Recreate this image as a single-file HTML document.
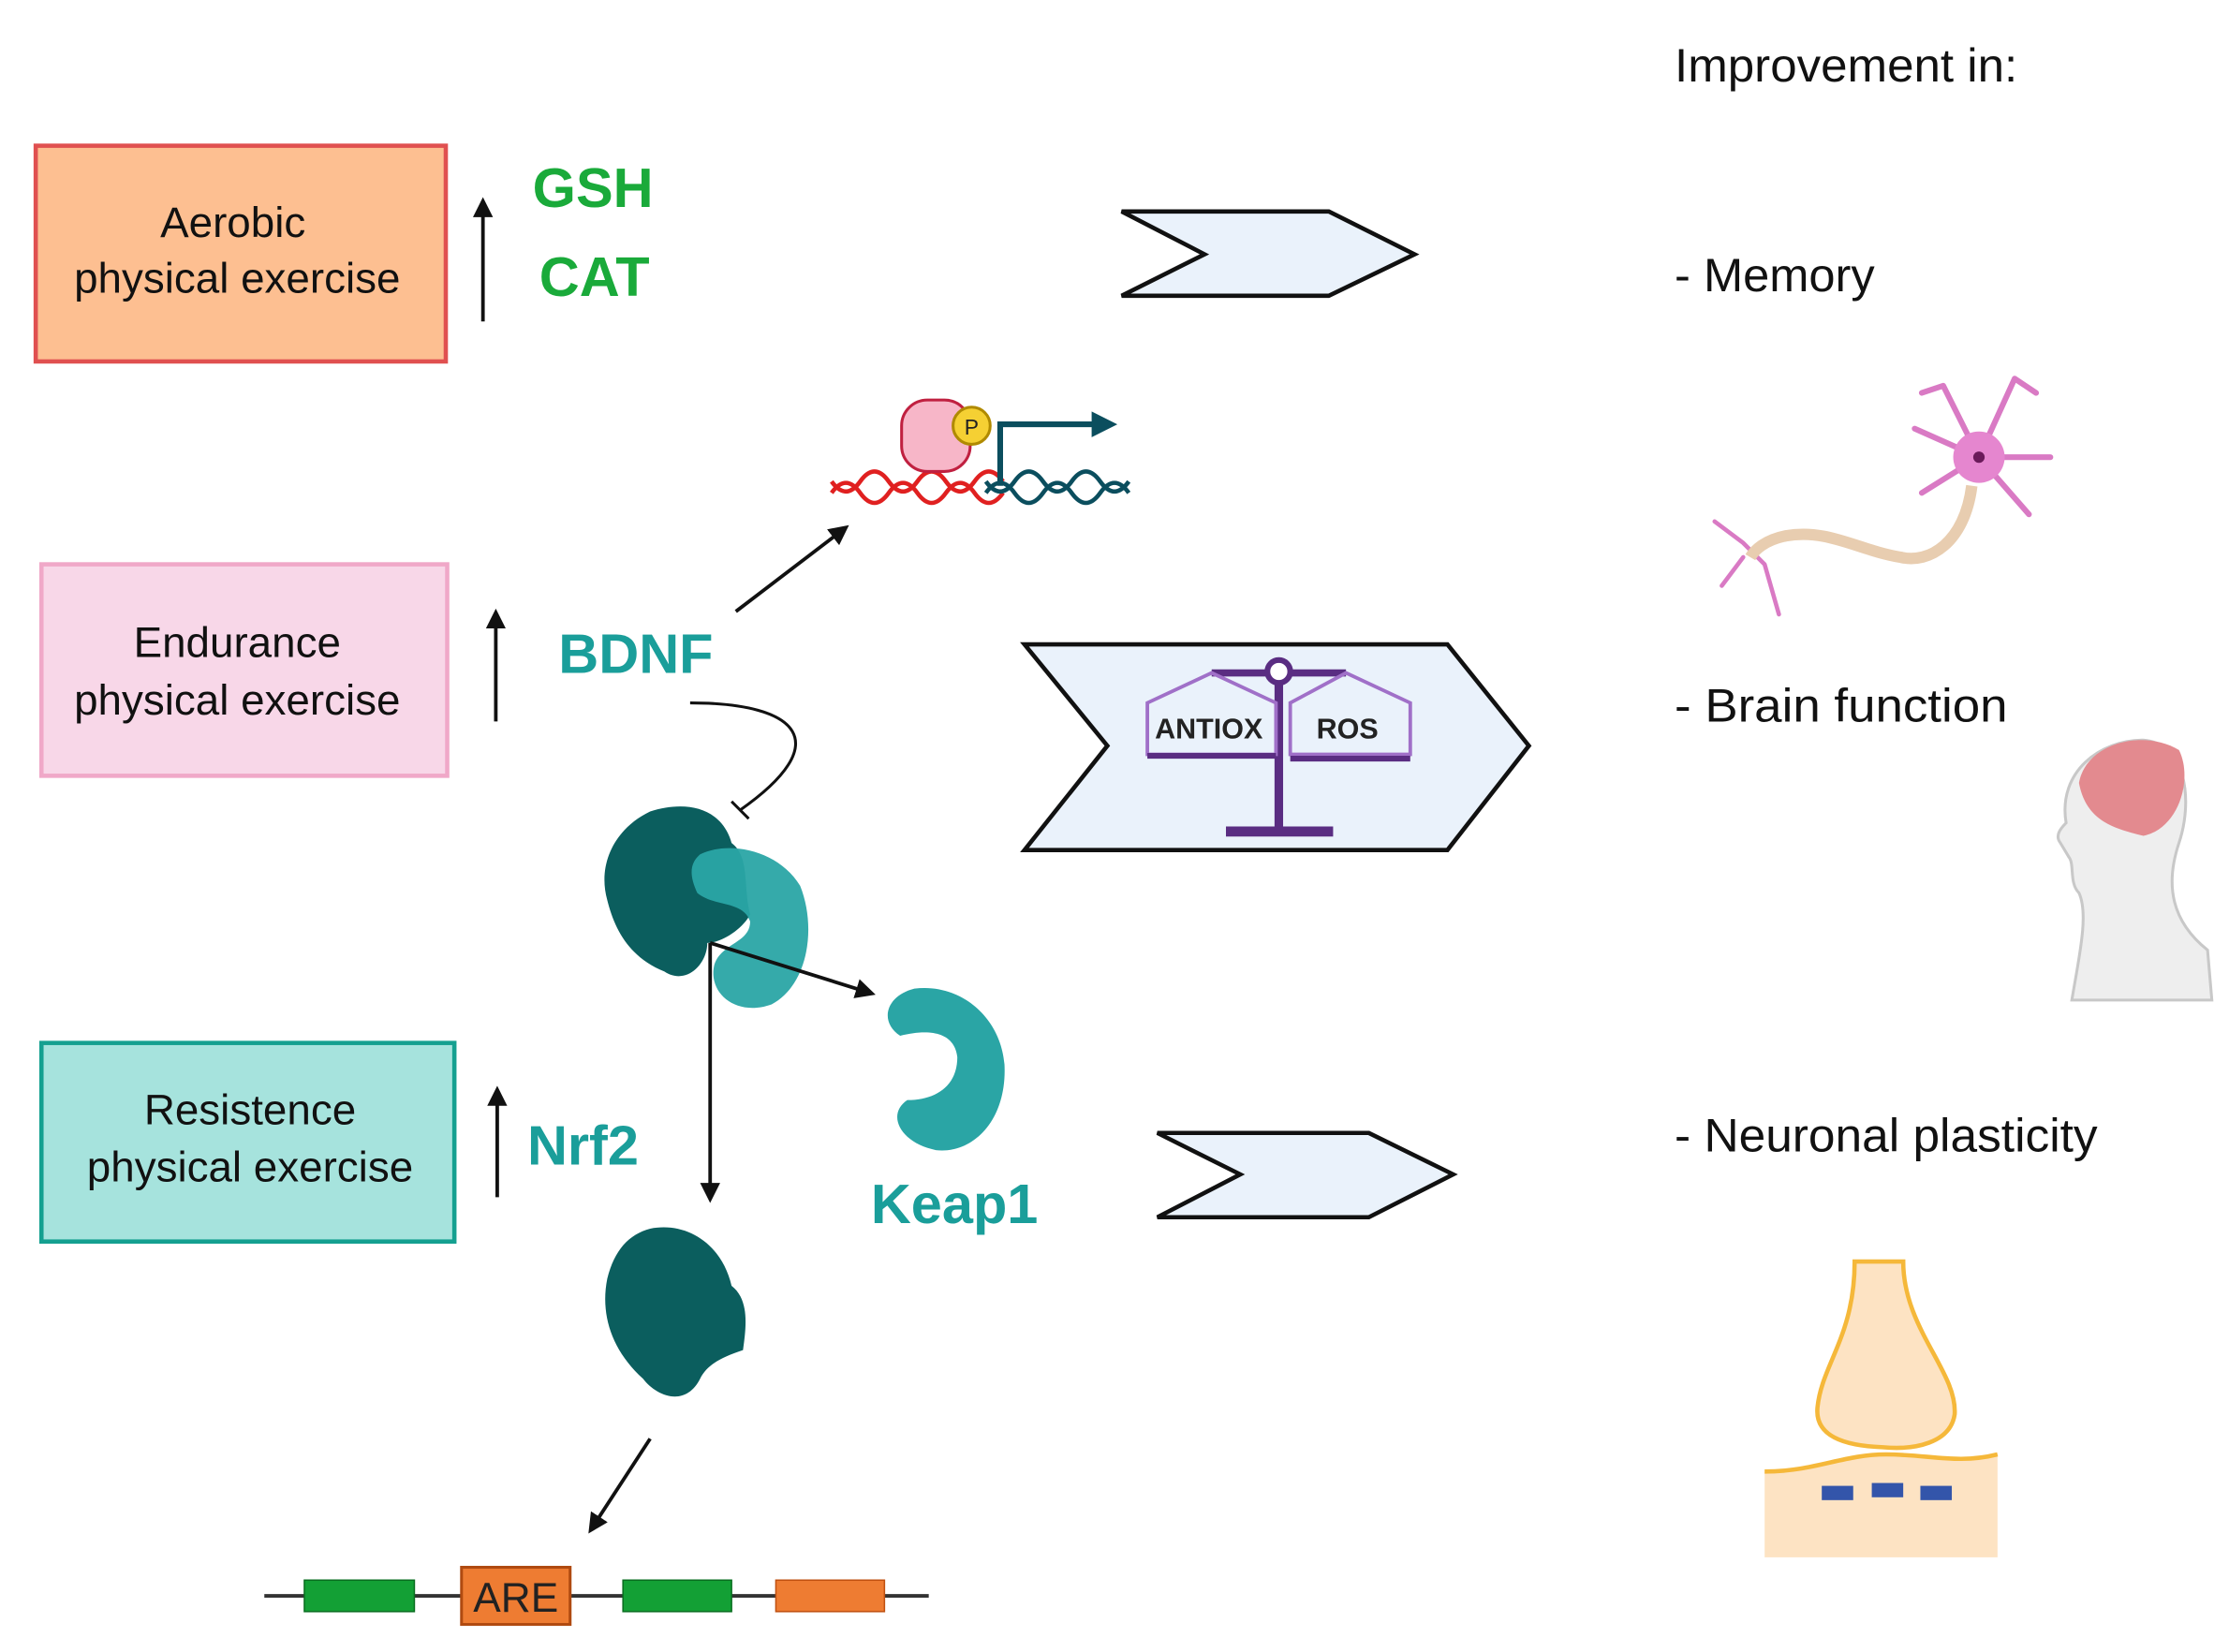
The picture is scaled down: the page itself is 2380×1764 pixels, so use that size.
<!DOCTYPE html>
<html><head><meta charset="utf-8"><style>
html,body{margin:0;padding:0;background:#fff}
svg{display:block}
text{font-family:"Liberation Sans",sans-serif}
</style></head><body>
<svg width="2380" height="1764" viewBox="0 0 1560 1156.3" preserveAspectRatio="none" xmlns="http://www.w3.org/2000/svg">
<defs>
<marker id="ah2" markerWidth="14" markerHeight="14" refX="10" refY="7" orient="auto" markerUnits="userSpaceOnUse"><path d="M0,0 L14,7 L0,14 z" fill="#111"/></marker>
</defs>
<rect width="1560" height="1157" fill="#fff"/>
<rect x="25" y="102" width="287" height="151" fill="#fdbf91" stroke="#e05050" stroke-width="3"/>
<text x="163" y="166" font-size="30" text-anchor="middle" fill="#111">Aerobic</text>
<text x="166" y="205" font-size="30" text-anchor="middle" fill="#111">physical exercise</text>
<rect x="29" y="395" width="284" height="148" fill="#f8d7e8" stroke="#f0a8c8" stroke-width="3"/>
<text x="166" y="460" font-size="30" text-anchor="middle" fill="#111">Endurance</text>
<text x="166" y="500" font-size="30" text-anchor="middle" fill="#111">physical exercise</text>
<rect x="29" y="730" width="289" height="139" fill="#a6e3dd" stroke="#14a090" stroke-width="3"/>
<text x="175" y="787" font-size="30" text-anchor="middle" fill="#111">Resistence</text>
<text x="175" y="827" font-size="30" text-anchor="middle" fill="#111">physical exercise</text>
<line x1="338" y1="225" x2="338" y2="142" stroke="#111" stroke-width="2.5" marker-end="url(#ah2)"/>
<line x1="347" y1="505" x2="347" y2="430" stroke="#111" stroke-width="2.5" marker-end="url(#ah2)"/>
<line x1="348" y1="838" x2="348" y2="764" stroke="#111" stroke-width="2.5" marker-end="url(#ah2)"/>
<text x="415" y="145" font-size="39" font-weight="bold" text-anchor="middle" fill="#1aaa3a">GSH</text>
<text x="416" y="207" font-size="39" font-weight="bold" text-anchor="middle" fill="#1aaa3a">CAT</text>
<text x="445" y="471" font-size="39" font-weight="bold" text-anchor="middle" fill="#1a9e9a">BDNF</text>
<text x="408" y="815" font-size="39" font-weight="bold" text-anchor="middle" fill="#1a9e9a">Nrf2</text>
<text x="668" y="856" font-size="39" font-weight="bold" text-anchor="middle" fill="#1a9e9a">Keap1</text>
<polygon points="785,148 930,148 990,178 930,207 785,207 843,178" fill="#eaf2fb" stroke="#111" stroke-width="3"/>
<polygon points="717,451 1013,451 1070,522 1013,595 717,595 775,522" fill="#eaf2fb" stroke="#111" stroke-width="3"/>
<polygon points="810,793 958,793 1017,822 958,852 810,852 868,822" fill="#eaf2fb" stroke="#111" stroke-width="3"/>
<g stroke="#5a2d82" fill="none">
<line x1="895" y1="470" x2="895" y2="580" stroke-width="6"/>
<line x1="858" y1="582" x2="933" y2="582" stroke-width="7"/>
<line x1="848" y1="471" x2="942" y2="471" stroke-width="5"/>
<circle cx="895" cy="470" r="8" fill="#fff" stroke-width="4"/>
<path d="M848,471 L803,492 L803,528 L893,528 L893,492 Z" stroke="#a070c8" stroke-width="2.5"/>
<path d="M942,471 L987,492 L987,528 L903,528 L903,492 Z" stroke="#a070c8" stroke-width="2.5"/>
<line x1="803" y1="529" x2="893" y2="529" stroke-width="4"/>
<line x1="903" y1="531" x2="987" y2="531" stroke-width="4"/>
</g>
<text x="846" y="517" font-size="20" font-weight="bold" text-anchor="middle" fill="#222">ANTIOX</text>
<text x="943" y="517" font-size="20" font-weight="bold" text-anchor="middle" fill="#222">ROS</text>
<text x="1172" y="57" font-size="33" fill="#111" textLength="240" lengthAdjust="spacingAndGlyphs">Improvement in:</text>
<text x="1172" y="204" font-size="33" fill="#111" textLength="140" lengthAdjust="spacingAndGlyphs">- Memory</text>
<text x="1172" y="505" font-size="33" fill="#111" textLength="233" lengthAdjust="spacingAndGlyphs">-  Brain function</text>
<text x="1172" y="806" font-size="33" fill="#111" textLength="296" lengthAdjust="spacingAndGlyphs">- Neuronal plasticity</text>
<path d="M582,345 q10,-14 20,0 t20,0 t20,0 t20,0 t20,0 t20,0" stroke="#e02020" stroke-width="3" fill="none"/>
<path d="M582,337 q10,14 20,0 t20,0 t20,0 t20,0 t20,0 t20,0" stroke="#e02020" stroke-width="3" fill="none"/>
<path d="M690,345 q10,-14 20,0 t20,0 t20,0 t20,0 t20,0" stroke="#0b4e5e" stroke-width="3" fill="none"/>
<path d="M690,337 q10,14 20,0 t20,0 t20,0 t20,0 t20,0" stroke="#0b4e5e" stroke-width="3" fill="none"/>
<rect x="631" y="280" width="48" height="50" rx="18" fill="#f7b6c8" stroke="#c02040" stroke-width="2"/>
<circle cx="680" cy="298" r="13" fill="#f5d033" stroke="#b08a00" stroke-width="2"/>
<text x="680" y="304" font-size="15" text-anchor="middle" fill="#222">P</text>
<path d="M700,340 L700,297 L768,297" stroke="#0b4e5e" stroke-width="4" fill="none"/>
<path d="M764,288 L782,297 L764,306 z" fill="#0b4e5e"/>
<line x1="515" y1="428" x2="591" y2="370" stroke="#111" stroke-width="2.5" marker-end="url(#ah2)"/>
<path d="M483,492 C560,492 585,520 518,567" stroke="#111" stroke-width="2" fill="none"/>
<line x1="512" y1="561" x2="524" y2="573" stroke="#111" stroke-width="2"/>
<path d="M455,568 C480,560 505,565 512,590 C525,600 520,620 525,640 C520,650 505,660 495,660 C495,675 480,690 465,680 C440,670 430,650 425,630 C418,605 430,580 455,568 Z" fill="#0b5e5e"/>
<path d="M490,598 C510,588 545,595 560,620 C572,650 565,690 540,703 C515,712 495,695 500,675 C505,660 525,660 525,645 C520,630 500,635 488,625 C482,612 483,604 490,598 Z" fill="#2aa5a5" opacity="0.95"/>
<line x1="497" y1="660" x2="497" y2="838" stroke="#111" stroke-width="2.5" marker-end="url(#ah2)"/>
<line x1="497" y1="660" x2="609" y2="695" stroke="#111" stroke-width="2.5" marker-end="url(#ah2)"/>
<path d="M640,692 C670,688 700,710 703,745 C705,785 680,808 655,805 C630,800 620,780 635,770 C655,770 670,760 670,740 C668,722 650,720 630,725 C615,715 620,697 640,692 Z" fill="#2aa5a5"/>
<path d="M455,860 C480,855 505,870 512,900 C525,910 522,930 520,945 C505,950 495,955 490,965 C480,985 460,978 450,965 C428,945 420,920 425,895 C430,875 440,864 455,860 Z" fill="#0b5e5e"/>
<line x1="455" y1="1007" x2="414" y2="1070" stroke="#111" stroke-width="2.5" marker-end="url(#ah2)"/>
<line x1="185" y1="1117" x2="650" y2="1117" stroke="#333" stroke-width="2.5"/>
<rect x="213" y="1106" width="77" height="22" fill="#13a035" stroke="#0a6e20"/>
<rect x="436" y="1106" width="76" height="22" fill="#13a035" stroke="#0a6e20"/>
<rect x="543" y="1106" width="76" height="22" fill="#ee7c32" stroke="#c05010"/>
<rect x="323" y="1097" width="76" height="40" fill="#ee7c32" stroke="#b04a10" stroke-width="2"/>
<text x="361" y="1128" font-size="29" text-anchor="middle" fill="#222">ARE</text>
<g stroke="#d97ac4" stroke-width="4" fill="none" stroke-linecap="round">
<path d="M1385,320 L1360,270 M1385,320 L1410,265 M1385,320 L1435,320 M1385,320 L1420,360 M1385,320 L1345,345 M1385,320 L1340,300 M1360,270 L1345,275 M1410,265 L1425,275"/>
<path d="M1220,380 L1200,365 M1220,390 L1205,410 M1235,395 L1245,430 M1220,380 L1235,395" stroke-width="3"/>
</g>
<path d="M1380,340 C1375,380 1350,395 1330,390 C1300,385 1280,370 1250,375 C1235,378 1228,385 1225,390" stroke="#e8cdb0" stroke-width="8" fill="none"/>
<circle cx="1385" cy="320" r="18" fill="#e586cf"/>
<circle cx="1385" cy="320" r="4" fill="#6a1a5a"/>
<path d="M1450,700 C1455,670 1462,640 1455,625 C1448,618 1452,605 1448,600 L1442,590 C1438,585 1442,580 1446,576 C1440,540 1470,518 1500,518 C1530,520 1535,560 1525,590 C1515,620 1520,645 1545,665 L1548,700 Z" fill="#eeeeee" stroke="#c8c8c8" stroke-width="2"/>
<path d="M1455,548 C1460,520 1500,510 1525,525 C1535,545 1525,580 1500,585 C1480,580 1460,575 1455,548 Z" fill="#e38a8f"/>
<path d="M1235,1030 C1270,1030 1290,1018 1320,1018 C1350,1018 1370,1025 1398,1018 L1398,1090 L1235,1090 Z" fill="#fde3c3"/>
<path d="M1235,1030 C1270,1030 1290,1018 1320,1018 C1350,1018 1370,1025 1398,1018" stroke="#f5b83a" stroke-width="3" fill="none"/>
<path d="M1298,883 L1332,883 C1332,930 1370,960 1368,990 C1365,1010 1340,1015 1318,1013 C1290,1012 1270,1005 1272,985 C1275,955 1298,935 1298,883 Z" fill="#fde3c3" stroke="#f5b83a" stroke-width="3"/>
<g fill="#3355aa"><rect x="1275" y="1040" width="22" height="10"/><rect x="1310" y="1038" width="22" height="10"/><rect x="1344" y="1040" width="22" height="10"/></g>
</svg>
</body></html>
